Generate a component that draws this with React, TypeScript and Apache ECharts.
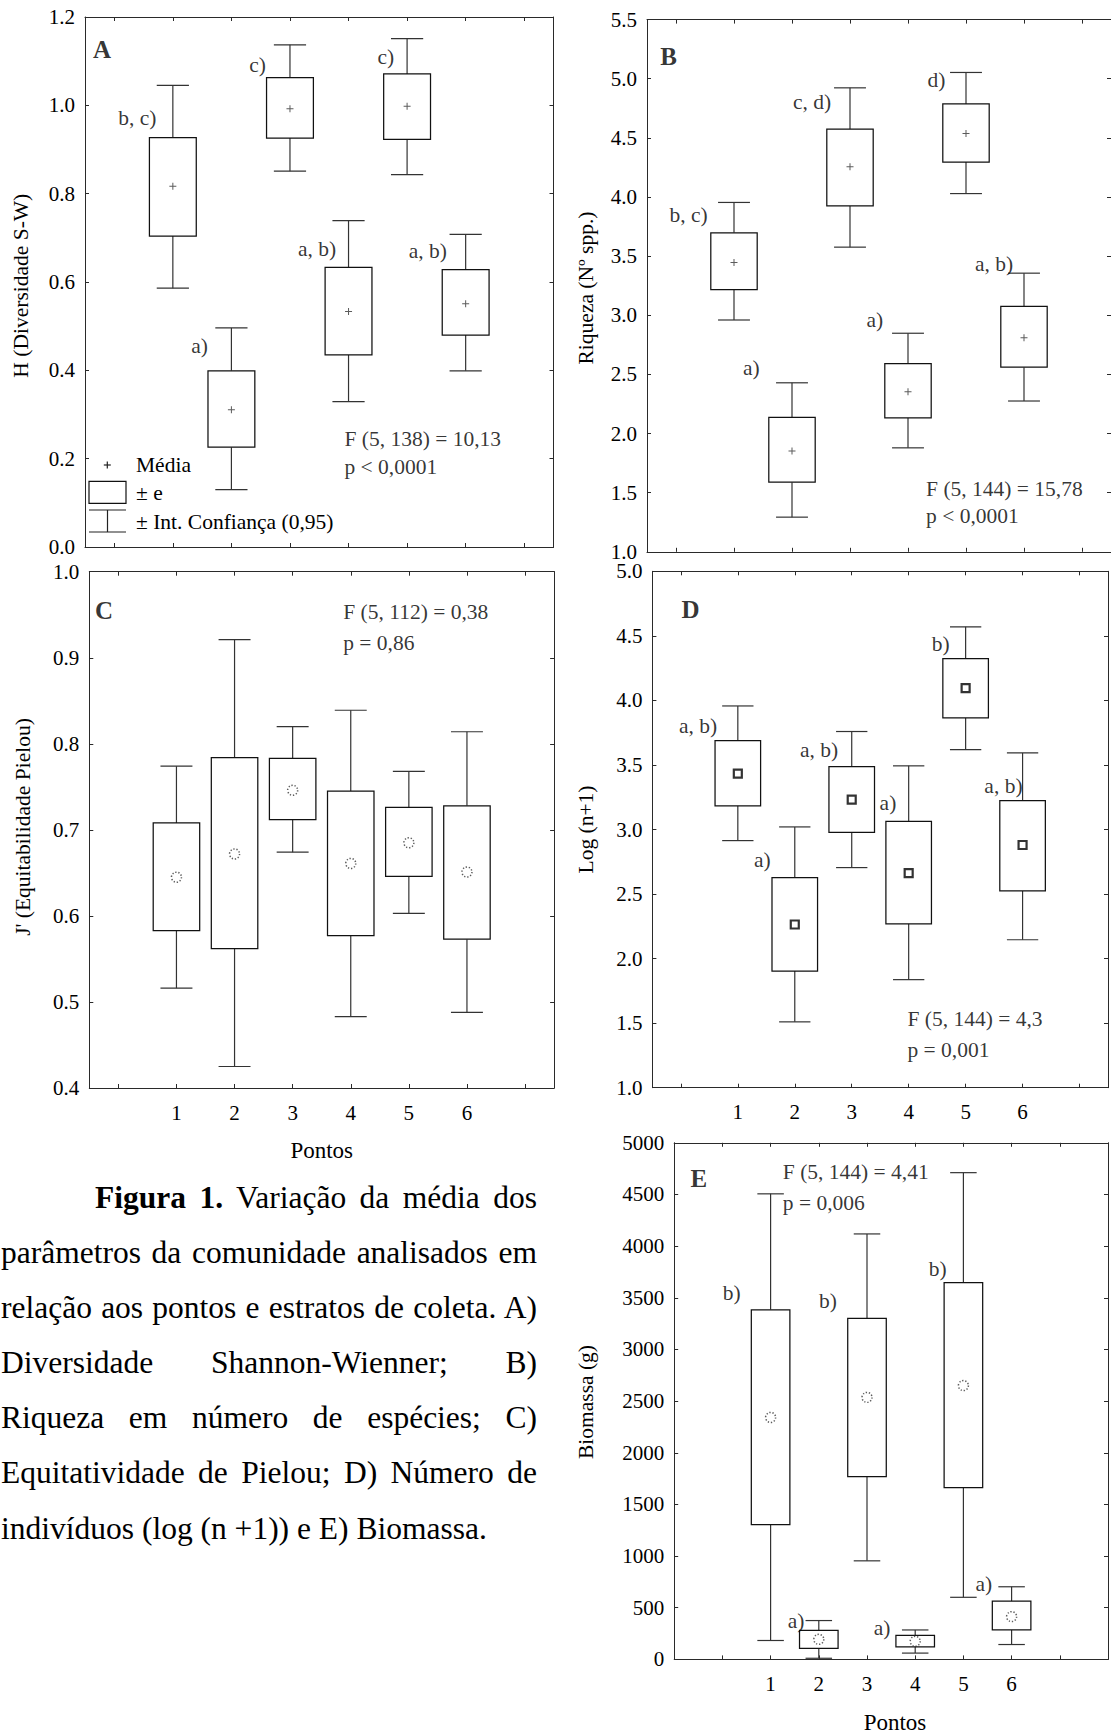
import React, { useEffect, useRef } from 'react';
import * as echarts from 'echarts';

const FONT = '"Liberation Serif", "Times New Roman", serif';
const FRAME = '#2a2a2a';

const pontos = [1, 2, 3, 4, 5, 6];

// Panel A - H (Diversidade S-W)
const hMean = [0.817, 0.311, 0.992, 0.533, 0.998, 0.551];
const hSeLow = [0.704, 0.226, 0.926, 0.435, 0.923, 0.48];
const hSeHigh = [0.927, 0.399, 1.063, 0.633, 1.071, 0.628];
const hCiLow = [0.586, 0.13, 0.851, 0.329, 0.843, 0.399];
const hCiHigh = [1.045, 0.496, 1.137, 0.739, 1.151, 0.708];
const hLetters: [string, number, number][] = [
  ['b, c)', 0.72, 0.972], ['a)', 1.6, 0.456], ['c)', 2.59, 1.092],
  ['a, b)', 3.79, 0.675], ['c)', 4.78, 1.109], ['a, b)', 5.68, 0.671],
];
const hStats: [string, number, number][] = [['F (5, 138) = 10,13', 3.93, 0.244], ['p < 0,0001', 3.93, 0.181]];

// Panel B - Riqueza
const rMean = [3.446, 1.852, 4.256, 2.353, 4.537, 2.809];
const rSeLow = [3.217, 1.589, 3.924, 2.133, 4.295, 2.561];
const rSeHigh = [3.697, 2.136, 4.573, 2.592, 4.787, 3.075];
const rCiLow = [2.96, 1.293, 3.576, 1.879, 4.029, 2.275];
const rCiHigh = [3.954, 2.429, 4.923, 2.848, 5.053, 3.356];
const rLetters: [string, number, number][] = [
  ['b, c)', 0.546, 3.848], ['a)', 1.443, 2.555], ['c, d)', 2.674, 4.806],
  ['a)', 3.571, 2.957], ['d)', 4.646, 4.987], ['a, b)', 5.812, 3.437],
];
const rStats: [string, number, number][] = [['F (5, 144) = 15,78', 4.312, 1.535], ['p < 0,0001', 4.312, 1.305]];

// Panel C - J' (Equitabilidade Pielou)
const jMean = [0.645, 0.672, 0.746, 0.661, 0.685, 0.651];
const jSeLow = [0.583, 0.562, 0.712, 0.577, 0.646, 0.573];
const jSeHigh = [0.708, 0.784, 0.783, 0.745, 0.726, 0.728];
const jCiLow = [0.516, 0.425, 0.674, 0.483, 0.603, 0.488];
const jCiHigh = [0.774, 0.921, 0.82, 0.839, 0.768, 0.814];
const jLetters: [string, number, number][] = [];
const jStats: [string, number, number][] = [['F (5, 112) = 0,38', 3.87, 0.953], ['p = 0,86', 3.87, 0.917]];

// Panel D - Log (n+1)
const nMean = [3.433, 2.264, 3.232, 2.662, 4.095, 2.88];
const nSeLow = [3.183, 1.903, 2.977, 2.269, 3.865, 2.524];
const nSeHigh = [3.688, 2.628, 3.487, 3.063, 4.324, 3.223];
const nCiLow = [2.914, 1.51, 2.705, 1.837, 3.619, 2.146];
const nCiHigh = [3.957, 3.02, 3.759, 3.493, 4.57, 3.593];
const nLetters: [string, number, number][] = [
  ['a, b)', 0.636, 3.802], ['a)', 1.578, 2.762], ['a, b)', 2.762, 3.616],
  ['a)', 3.783, 3.206], ['b)', 4.719, 4.438], ['a, b)', 6.0, 3.335],
];
const nStats: [string, number, number][] = [['F (5, 144) = 4,3', 3.978, 1.53], ['p = 0,001', 3.978, 1.292]];

// Panel E - Biomassa (g)
const bMean = [2342, 194, 2536, 175, 2650, 414];
const bSeLow = [1304, 106, 1768, 122, 1662, 285];
const bSeHigh = [3384, 281, 3300, 232, 3646, 563];
const bCiLow = [183, 11, 954, 61, 601, 144];
const bCiHigh = [4506, 376, 4118, 285, 4711, 703];
const bLetters: [string, number, number][] = [
  ['b)', 0.381, 3548], ['a)', 1.704, 373], ['b)', 2.376, 3471],
  ['a)', 3.485, 308], ['b)', 4.651, 3783], ['a)', 5.595, 726],
];
const bStats: [string, number, number][] = [['F (5, 144) = 4,41', 1.253, 4715], ['p = 0,006', 1.253, 4414]];

const captionLines = [
  'Variação da média dos',
  'parâmetros da comunidade analisados em',
  'relação aos pontos e estratos de coleta. A)',
  'Diversidade Shannon-Wienner; B)',
  'Riqueza em número de espécies; C)',
  'Equitatividade de Pielou; D) Número de',
  'indivíduos (log (n +1)) e E) Biomassa.',
];

const PLUS = 'path://M0 3h7v1H0z M3 0h1v7H3z';
const DOTTED = {
  symbol: 'circle', symbolSize: 10,
  itemStyle: { color: 'rgba(255,255,255,0)', borderColor: '#333', borderWidth: 1.5, borderType: [1.3, 1.8] },
};

type Panel = {
  letter: [string, number, number];
  grid: { left: number; top: number; width: number; height: number };
  xMin: number; xMax: number; xSplit: number;
  yMin: number; yMax: number; yInt: number; yDec: number;
  showX: boolean;
  mean: number[]; seLow: number[]; seHigh: number[]; ciLow: number[]; ciHigh: number[];
  letters: [string, number, number][];
  stats: [string, number, number][];
  meanStyle: any;
};

const panels: Panel[] = [
  {
    letter: ['A', -0.363, 1.127], grid: { left: 85, top: 17, width: 468.5, height: 530 },
    xMin: -0.5, xMax: 7.5, xSplit: 8, yMin: 0, yMax: 1.2, yInt: 0.2, yDec: 1, showX: false,
    mean: hMean, seLow: hSeLow, seHigh: hSeHigh, ciLow: hCiLow, ciHigh: hCiHigh,
    letters: hLetters, stats: hStats,
    meanStyle: { symbol: PLUS, symbolSize: 7, itemStyle: { color: '#333' } },
  },
  {
    letter: ['B', -0.273, 5.192], grid: { left: 647, top: 19.6, width: 470.4, height: 532.2 },
    xMin: -0.5, xMax: 7.5, xSplit: 8, yMin: 1, yMax: 5.5, yInt: 0.5, yDec: 1, showX: false,
    mean: rMean, seLow: rSeLow, seHigh: rSeHigh, ciLow: rCiLow, ciHigh: rCiHigh,
    letters: rLetters, stats: rStats,
    meanStyle: { symbol: PLUS, symbolSize: 7, itemStyle: { color: '#333' } },
  },
  {
    letter: ['C', -0.4, 0.955], grid: { left: 89.3, top: 571.7, width: 464.8, height: 516.3 },
    xMin: -0.5, xMax: 7.5, xSplit: 8, yMin: 0.4, yMax: 1.0, yInt: 0.1, yDec: 1, showX: true,
    mean: jMean, seLow: jSeLow, seHigh: jSeHigh, ciLow: jCiLow, ciHigh: jCiHigh,
    letters: jLetters, stats: jStats,
    meanStyle: DOTTED,
  },
  {
    letter: ['D', 0.01, 4.705], grid: { left: 652.4, top: 571.3, width: 462.4, height: 516.4 },
    xMin: -0.5, xMax: 7.5, xSplit: 8, yMin: 1, yMax: 5, yInt: 0.5, yDec: 1, showX: true,
    mean: nMean, seLow: nSeLow, seHigh: nSeHigh, ciLow: nCiLow, ciHigh: nCiHigh,
    letters: nLetters, stats: nStats,
    meanStyle: { symbol: 'rect', symbolSize: 8, itemStyle: { color: '#fff', borderColor: '#000', borderWidth: 2.2 } },
  },
  {
    letter: ['E', -0.664, 4658], grid: { left: 674.2, top: 1142.8, width: 442, height: 516.6 },
    xMin: -1, xMax: 8, xSplit: 9, yMin: 0, yMax: 5000, yInt: 500, yDec: 0, showX: true,
    mean: bMean, seLow: bSeLow, seHigh: bSeHigh, ciLow: bCiLow, ciHigh: bCiHigh,
    letters: bLetters, stats: bStats,
    meanStyle: DOTTED,
  },
];

const renderBox = (params: any, api: any) => {
  const x = api.value(0);
  const lo = api.coord([x, api.value(1)]);
  const q1 = api.coord([x, api.value(2)]);
  const q3 = api.coord([x, api.value(3)]);
  const hi = api.coord([x, api.value(4)]);
  const unit = api.size([1, 0])[0];
  const bw = unit * 0.8;
  const cw = unit * 0.55;
  const cx = lo[0];
  const ws = { stroke: '#333', lineWidth: 1.2 };
  return {
    type: 'group',
    children: [
      { type: 'line', shape: { x1: cx, y1: hi[1], x2: cx, y2: q3[1] }, style: ws },
      { type: 'line', shape: { x1: cx, y1: q1[1], x2: cx, y2: lo[1] }, style: ws },
      { type: 'line', shape: { x1: cx - cw / 2, y1: hi[1], x2: cx + cw / 2, y2: hi[1] }, style: ws },
      { type: 'line', shape: { x1: cx - cw / 2, y1: lo[1], x2: cx + cw / 2, y2: lo[1] }, style: ws },
      { type: 'rect', shape: { x: cx - bw / 2, y: q3[1], width: bw, height: q1[1] - q3[1] }, style: { fill: '#fff', stroke: '#111', lineWidth: 1.25 } },
    ],
  };
};

const textStyle = { color: '#000', fontSize: 21.5, fontFamily: FONT };

function buildOption() {
  const grids: any[] = [];
  const xAxes: any[] = [];
  const yAxes: any[] = [];
  const series: any[] = [];
  panels.forEach((p, i) => {
    grids.push({ ...p.grid, containLabel: false });
    const xc = {
      type: 'value', gridIndex: i, min: p.xMin, max: p.xMax, splitNumber: p.xSplit,
      axisLine: { onZero: false, lineStyle: { color: FRAME, width: 1 } },
      axisTick: { inside: true, length: 4, lineStyle: { color: FRAME, width: 1 } },
      splitLine: { show: false },
    };
    xAxes.push({
      ...xc, position: 'bottom',
      axisLabel: {
        show: p.showX, margin: 14, ...textStyle, fontSize: 21,
        formatter: (v: number) => {
          const r = Math.round(v);
          return Math.abs(v - r) < 1e-6 && r >= 1 && r <= 6 ? String(r) : '';
        },
      },
    });
    xAxes.push({ ...xc, position: 'top', axisLabel: { show: false } });
    const yc = {
      type: 'value', gridIndex: i, min: p.yMin, max: p.yMax, interval: p.yInt,
      axisLine: { onZero: false, lineStyle: { color: FRAME, width: 1 } },
      axisTick: { inside: true, length: 4, lineStyle: { color: FRAME, width: 1 } },
      splitLine: { show: false },
    };
    yAxes.push({
      ...yc, position: 'left',
      axisLabel: { margin: 10, ...textStyle, fontSize: 21, formatter: (v: number) => v.toFixed(p.yDec) },
    });
    yAxes.push({ ...yc, position: 'right', axisLabel: { show: false } });
    const xi = 2 * i;
    const yi = 2 * i;
    series.push({
      type: 'custom', xAxisIndex: xi, yAxisIndex: yi, renderItem: renderBox, clip: false, silent: true,
      encode: { x: 0, y: [1, 2, 3, 4] },
      data: pontos.map((x, k) => [x, p.ciLow[k], p.seLow[k], p.seHigh[k], p.ciHigh[k]]),
      z: 2,
    });
    series.push({
      type: 'scatter', xAxisIndex: xi, yAxisIndex: yi, silent: true, z: 3,
      ...p.meanStyle,
      data: pontos.map((x, k) => [x, p.mean[k]]),
    });
    series.push({
      type: 'scatter', xAxisIndex: xi, yAxisIndex: yi, silent: true, symbolSize: 0, z: 4,
      label: { show: true, position: 'left', distance: 0, formatter: '{b}', ...textStyle },
      data: p.letters.map((l) => ({ name: l[0], value: [l[1], l[2]] })),
    });
    series.push({
      type: 'scatter', xAxisIndex: xi, yAxisIndex: yi, silent: true, symbolSize: 0, z: 4,
      label: { show: true, position: 'right', distance: 0, formatter: '{b}', ...textStyle },
      data: p.stats.map((l) => ({ name: l[0], value: [l[1], l[2]] })),
    });
    series.push({
      type: 'scatter', xAxisIndex: xi, yAxisIndex: yi, silent: true, symbolSize: 0, z: 4,
      label: { show: true, position: 'right', distance: 0, formatter: '{b}', ...textStyle, fontSize: 25, fontWeight: 'bold' },
      data: [{ name: p.letter[0], value: [p.letter[1], p.letter[2]] }],
    });
  });

  const tFont = `21.5px ${FONT}`;
  const yTitle = (text: string, x: number, y: number) => ({
    type: 'text', x, y, rotation: Math.PI / 2, silent: true,
    style: { text, font: tFont, fill: '#000', textAlign: 'center', textVerticalAlign: 'middle' },
  });
  const plainText = (text: string, x: number, y: number, font = tFont, align = 'left') => ({
    type: 'text', x, y, silent: true,
    style: { text, font, fill: '#000', textAlign: align, textVerticalAlign: 'middle' },
  });
  const ln = (x1: number, y1: number, x2: number, y2: number) => ({
    type: 'line', silent: true, shape: { x1, y1, x2, y2 }, style: { stroke: '#222', lineWidth: 1.2 },
  });
  const graphic: any[] = [
    yTitle('H (Diversidade S-W)', 21.4, 285.7),
    yTitle('Riqueza (Nº spp.)', 586.4, 288),
    yTitle("J' (Equitabilidade Pielou)", 23.2, 827),
    yTitle('Log (n+1)', 586.4, 829.5),
    yTitle('Biomassa (g)', 586.4, 1402),
    plainText('Pontos', 321.7, 1150, `23px ${FONT}`, 'center'),
    plainText('Pontos', 895, 1722.7, `23px ${FONT}`, 'center'),
    // legend of panel A
    ln(103.8, 465, 110.8, 465),
    ln(107.3, 461.5, 107.3, 468.5),
    plainText('Média', 136, 465),
    { type: 'rect', silent: true, shape: { x: 89, y: 481.3, width: 37, height: 22 }, style: { fill: '#fff', stroke: '#111', lineWidth: 1.2 } },
    plainText('± e', 136, 493.3),
    ln(89, 510, 126, 510),
    ln(89, 532, 126, 532),
    ln(107.5, 510, 107.5, 532),
    plainText('± Int. Confiança (0,95)', 136, 521.7),
  ];

  return {
    animation: false,
    backgroundColor: '#fff',
    grid: grids,
    xAxis: xAxes,
    yAxis: yAxes,
    series,
    graphic,
  };
}

export default function App() {
  const ref = useRef<HTMLDivElement>(null);
  useEffect(() => {
    document.body.style.margin = '0';
    if (!ref.current) return;
    const chart = echarts.init(ref.current, undefined, { renderer: 'svg' });
    chart.setOption(buildOption() as any);
    return () => chart.dispose();
  }, []);
  return (
    <div style={{ position: 'relative', width: 1111, height: 1736, overflow: 'hidden', background: '#fff' }}>
      <div ref={ref} style={{ position: 'absolute', left: 0, top: 0, width: 1111, height: 1736 }} />
      <div
        style={{
          position: 'absolute', left: 1, top: 1170, width: 536,
          fontFamily: FONT, fontSize: 31.5, lineHeight: '55.1px', color: '#000',
        }}
      >
        {captionLines.map((t, i) => (
          <div
            key={i}
            style={{
              textAlign: i < 6 ? 'justify' : 'left',
              textAlignLast: i < 6 ? 'justify' : 'left',
              textIndent: i === 0 ? 94 : 0,
            } as any}
          >
            {i === 0 ? (<><b>Figura 1.</b> {t}</>) : t}
          </div>
        ))}
      </div>
    </div>
  );
}
